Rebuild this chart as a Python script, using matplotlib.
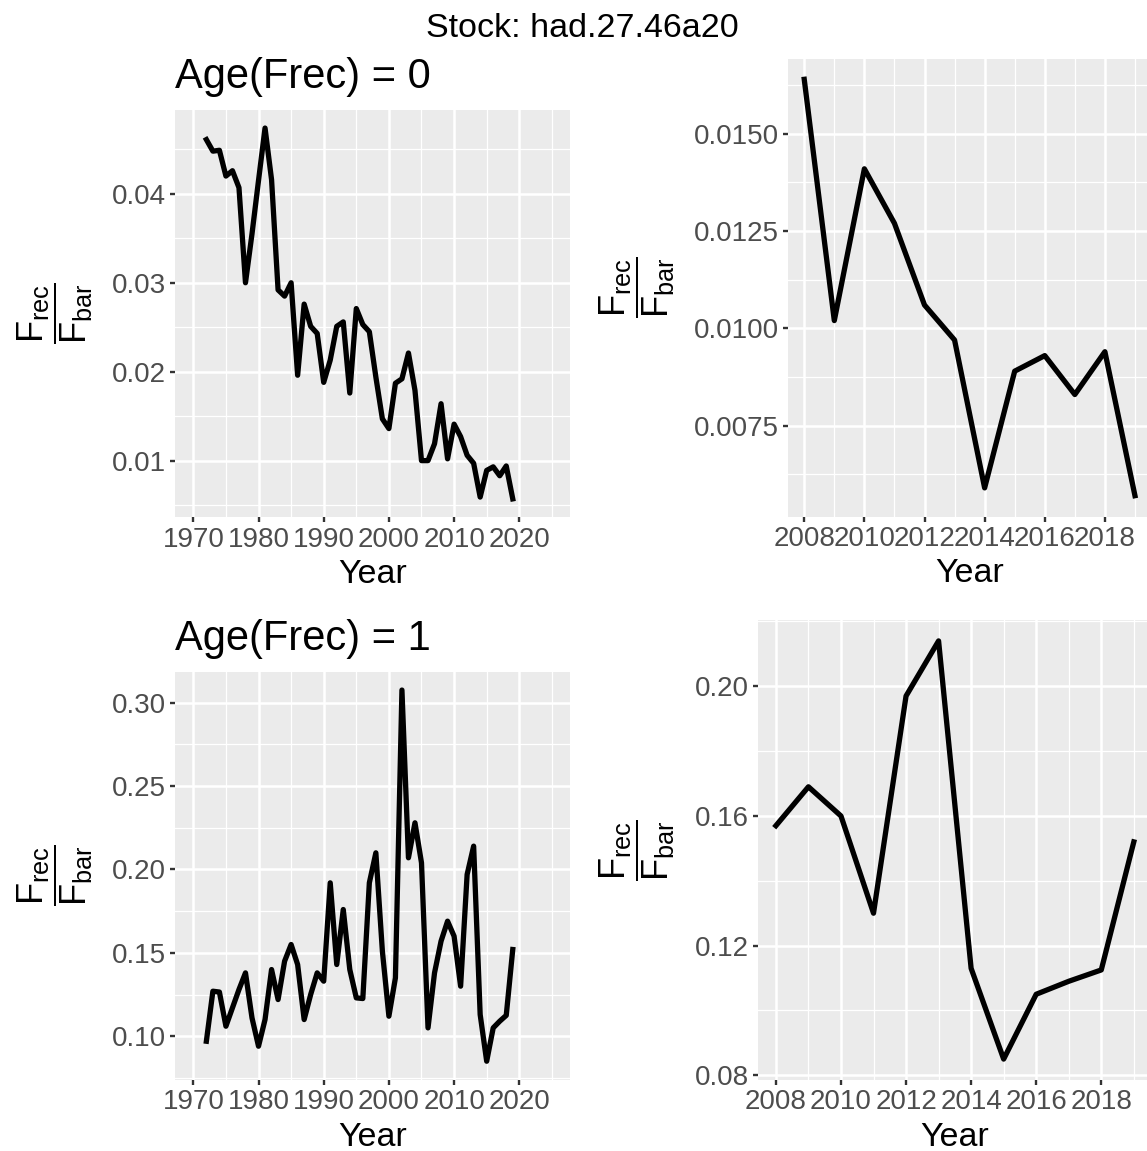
import matplotlib
matplotlib.use('Agg')
import matplotlib.pyplot as plt
from matplotlib.ticker import MultipleLocator, FormatStrFormatter

plt.rcParams['font.family'] = ['Liberation Sans', 'DejaVu Sans']
plt.rcParams['mathtext.fontset'] = 'custom'
plt.rcParams['mathtext.rm'] = 'Liberation Sans'
plt.rcParams['mathtext.it'] = 'Liberation Sans'
plt.rcParams['mathtext.bf'] = 'Liberation Sans:bold'

# data
years = list(range(1972, 2020))
frec_age0 = [0.0461, 0.0448, 0.0449, 0.0420, 0.0426, 0.0407, 0.0300, 0.0355,
             0.0415, 0.0474, 0.0416, 0.0292, 0.0285, 0.0300, 0.0196, 0.0276,
             0.0251, 0.0243, 0.0188, 0.0213, 0.0251, 0.0256, 0.0176, 0.0271,
             0.0253, 0.0245, 0.0194, 0.0147, 0.0136, 0.0187, 0.0192, 0.0221,
             0.0179, 0.0100, 0.0100, 0.0119, 0.0164, 0.0102, 0.0141, 0.0127,
             0.0106, 0.0097, 0.0059, 0.0089, 0.0093, 0.0083, 0.0094, 0.0057]
frec_age1 = [0.097, 0.127, 0.1265, 0.106, 0.117, 0.128, 0.138, 0.111,
             0.094, 0.110, 0.140, 0.122, 0.145, 0.155, 0.143, 0.110,
             0.125, 0.138, 0.133, 0.192, 0.143, 0.176, 0.140, 0.123,
             0.1226, 0.192, 0.210, 0.151, 0.112, 0.135, 0.3076, 0.207,
             0.228, 0.204, 0.105, 0.138, 0.157, 0.169, 0.160, 0.130,
             0.197, 0.214, 0.113, 0.085, 0.105, 0.109, 0.1125, 0.152]
ages = [0, 1]
n_recent = 12  # right-hand panels show the last 12 years

W, H = 1147, 1151
fig = plt.figure(figsize=(W / 100, H / 100), dpi=100)


def px_axes(l, t, r, b):
    return fig.add_axes([l / W, 1 - b / H, (r - l) / W, (b - t) / H])


def style(ax, xmaj, xmin, ymaj, ymin, yfmt):
    ax.set_facecolor('#EBEBEB')
    for s in ax.spines.values():
        s.set_visible(False)
    ax.xaxis.set_major_locator(MultipleLocator(xmaj))
    ax.xaxis.set_minor_locator(MultipleLocator(xmin))
    ax.yaxis.set_major_locator(MultipleLocator(ymaj))
    ax.yaxis.set_minor_locator(MultipleLocator(ymin))
    ax.yaxis.set_major_formatter(FormatStrFormatter(yfmt))
    ax.grid(which='major', color='white', lw=1.8)
    ax.grid(which='minor', color='white', lw=0.9)
    ax.set_axisbelow(True)
    ax.tick_params(which='major', length=3.6, width=1.7, color='#333333',
                   labelcolor='#4D4D4D', labelsize=20, pad=3)
    ax.tick_params(which='minor', length=0)


ylab = r'$\dfrac{F_{rec}}{F_{bar}}$'

# panel boxes in pixels: left, top, right, bottom
boxes_left = [(175.4, 109.5, 569.8, 517.4), (175.4, 671.5, 569.8, 1079.8)]
boxes_right = [(787.7, 58.5, 1151.5, 516.5), (758.0, 620.0, 1151.7, 1080.0)]
fmt_left = ['%.2f', '%.2f']
fmt_right = ['%.4f', '%.2f']
ystep_left = [0.01, 0.05]
ystep_right = [0.0025, 0.04]

for i, (age, vals) in enumerate(zip(ages, [frec_age0, frec_age1])):
    # full series
    ax = px_axes(*boxes_left[i])
    ax.plot(years, vals, color='black', lw=3.8, solid_joinstyle='round')
    ax.set_xlim(1967.25, 2027.75)
    style(ax, 10, 5, ystep_left[i], ystep_left[i] / 2, fmt_left[i])
    l, t, r, b = boxes_left[i]
    fig.text(l / W, 1 - (t - 21.5) / H, 'Age(Frec) = %d' % age, fontsize=30,
             ha='left', va='baseline')
    fig.text((l + r) / 2 / W, 1 - (b + 66) / H, 'Year', fontsize=24.5,
             ha='center', va='baseline')
    fig.text(55 / W, 1 - (t + b) / 2 / H, ylab, fontsize=26, rotation=90,
             ha='center', va='center')

    # recent years
    ax = px_axes(*boxes_right[i])
    ax.plot(years[-n_recent:], vals[-n_recent:], color='black', lw=3.8,
            solid_joinstyle='round')
    ax.margins(x=0.05, y=0.05)
    style(ax, 2, 1, ystep_right[i], ystep_right[i] / 2, fmt_right[i])
    l, t, r, b = boxes_right[i]
    fig.text((l + r) / 2 / W, 1 - (b + 66) / H, 'Year', fontsize=24.5,
             ha='center', va='baseline')
    fig.text(637 / W, 1 - (t + b) / 2 / H, ylab, fontsize=26, rotation=90,
             ha='center', va='center')

fig.text(582.5 / W, 1 - 36.7 / H, 'Stock: had.27.46a20', fontsize=24.5,
         ha='center', va='baseline')

fig.savefig('out.png', dpi=100, facecolor='white')
